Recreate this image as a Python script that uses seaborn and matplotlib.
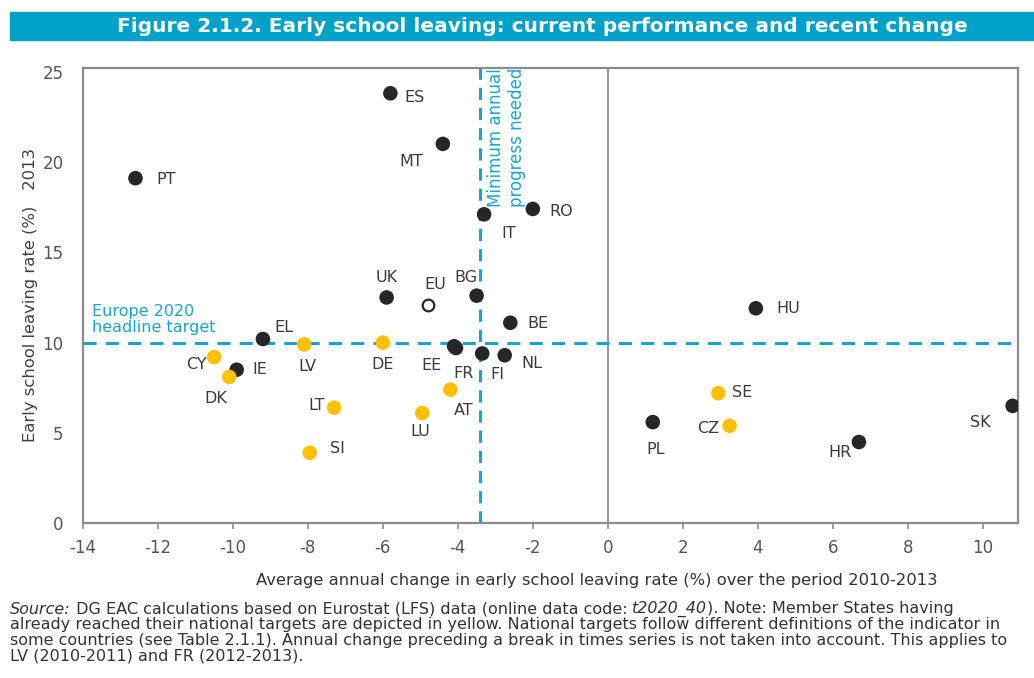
import numpy as np
import pandas as pd
import matplotlib
matplotlib.use("Agg")
import matplotlib.pyplot as plt
import seaborn as sns
from matplotlib.patches import Rectangle

# ---------------- data ----------------
countries = ["ES", "MT", "PT", "IT", "RO", "UK", "EU", "BG", "BE", "EL", "LV", "DE",
             "EE", "FR", "FI", "NL", "CY", "IE", "DK", "AT", "LT", "LU", "SI",
             "HU", "SE", "CZ", "PL", "HR", "SK"]
change = [-5.8, -4.4, -12.6, -3.3, -2.0, -5.9, -4.8, -3.5, -2.6, -9.2, -8.1, -6.0,
          -4.1, -4.05, -3.35, -2.75, -10.5, -9.9, -10.1, -4.2, -7.3, -4.95, -7.95,
          3.95, 2.95, 3.25, 1.2, 6.7, 10.8]
rate = [23.8, 21.0, 19.1, 17.1, 17.4, 12.5, 12.1, 12.6, 11.1, 10.2, 9.9, 10.0,
        9.8, 9.7, 9.4, 9.3, 9.2, 8.5, 8.1, 7.4, 6.4, 6.1, 3.9,
        11.9, 7.2, 5.4, 5.6, 4.5, 6.5]
status = ["not", "not", "not", "not", "not", "not", "eu", "not", "not", "not", "reached", "reached",
          "not", "not", "not", "not", "reached", "not", "reached", "reached", "reached", "reached", "reached",
          "not", "reached", "reached", "not", "not", "not"]

headline_target = 10
min_annual_progress = -3.4

x_ticks = list(range(-14, 11, 2))
y_ticks = [0, 5, 10, 15, 20, 25]

# label offsets in pixels (layout only)
label_offsets = {
    "ES": (24, -4), "MT": (-32, -18), "PT": (31, -1), "IT": (25, -19), "RO": (28, -3),
    "UK": (0, 20), "EU": (7, 20), "BG": (-11, 18), "BE": (28, -1), "EL": (21, 12),
    "LV": (3, -22), "DE": (0, -22), "EE": (-23, -19), "FR": (8, -25), "FI": (15, -21),
    "NL": (27, -8), "CY": (-18, -7), "IE": (23, 0), "DK": (-13, -22), "AT": (13, -21),
    "LT": (-18, 2), "LU": (-2, -18), "SI": (28, 4), "HU": (32, 0), "SE": (24, 1),
    "CZ": (-21, -3), "PL": (3, -27), "HR": (-19, -11), "SK": (-32, -17),
}

df = pd.DataFrame({"country": countries, "change": change, "rate": rate, "status": status})

# ---------------- style ----------------
sns.set_theme(style="white")
plt.rcParams["font.family"] = ["DejaVu Sans"]

W, H = 1034, 678
fig = plt.figure(figsize=(W / 100, H / 100), dpi=100)
ax = fig.add_axes([83 / W, 1 - 523.3 / H, (1017.5 - 83) / W, (523.3 - 68) / H])

CYAN = "#1ba3cf"
DARK = "#262626"
YELLOW = "#ffc000"
GREY = "#8c8c8c"

ax.axvline(0, color=GREY, lw=1.3, zorder=1)
ax.axhline(headline_target, color=CYAN, lw=2.2, dashes=(4.3, 3.0), zorder=2)
ax.axvline(min_annual_progress, color=CYAN, lw=2.2, dashes=(4.0, 2.6), zorder=2)

sns.scatterplot(data=df[df.status != "eu"], x="change", y="rate", hue="status",
                palette={"not": DARK, "reached": YELLOW}, s=110, edgecolor="none",
                legend=False, ax=ax, zorder=4)
sns.scatterplot(data=df[df.status == "eu"], x="change", y="rate", color="white",
                edgecolor=DARK, linewidth=1.6, s=70, legend=False, ax=ax, zorder=4)

for c, xv, yv in zip(countries, change, rate):
    dx, dy = label_offsets[c]
    ax.annotate(c, (xv, yv), xytext=(dx, dy), textcoords="offset pixels",
                ha="center", va="center", fontsize=11.5, color="#3a3a3a", zorder=5)

ax.text(-13.76, 10.4, "Europe 2020\nheadline target", color=CYAN, fontsize=11.5,
        ha="left", va="bottom", linespacing=1.15)
ax.text(-2.99, 17.5, "Minimum annual", color=CYAN, fontsize=12, rotation=90,
        ha="center", va="bottom")
ax.text(-2.41, 17.5, "progress needed", color=CYAN, fontsize=12, rotation=90,
        ha="center", va="bottom")

ax.set_xlim(-14, 10.93)
ax.set_ylim(0, 25.2)
ax.set_xticks(x_ticks)
ax.set_yticks(y_ticks)
ax.set_xticklabels([str(t) for t in x_ticks])
ax.set_yticklabels([str(t) for t in y_ticks])
ax.tick_params(axis="x", direction="out", length=4, width=1.2, color=GREY,
               labelsize=12, labelcolor="#555555", pad=7, bottom=True)
ax.tick_params(axis="y", length=0, labelsize=12, labelcolor="#555555", pad=14)
ax.set_xlabel("")
ax.set_ylabel("")
for s in ax.spines.values():
    s.set_color(GREY)
    s.set_linewidth(1.6)

# axis titles
fig.text(31 / W, 1 - 295 / H, "Early school leaving rate (%)   2013", rotation=90,
         ha="center", va="center", fontsize=11.8, color="#404040")
fig.text(597 / W, 1 - 580 / H,
         "Average annual change in early school leaving rate (%) over the period 2010-2013",
         ha="center", va="center", fontsize=11.8, color="#333333")

# title bar
fig.patches.append(Rectangle((10 / W, 1 - 40 / H), 1 - 10 / W, 28 / H,
                             transform=fig.transFigure, color="#00a1c9", zorder=0))
fig.text(542 / W, 1 - 27 / H,
         "Figure 2.1.2. Early school leaving: current performance and recent change",
         ha="center", va="center", fontsize=14.5, fontweight="bold", color="white")

# source note
fs = 11.5
renderer = fig.canvas.get_renderer()
pieces = [("Source:", "italic"),
          (" DG EAC calculations based on Eurostat (LFS) data (online data code: ", "normal"),
          ("t2020_40", "italic"),
          ("). Note: Member States having", "normal")]
xpos = 10
y1 = 1 - 609 / H
for txt, st in pieces:
    t = fig.text(xpos / W, y1, txt, style=st, fontsize=fs, color="#333333",
                 ha="left", va="center")
    bb = t.get_window_extent(renderer)
    xpos = bb.x1
rest = ["already reached their national targets are depicted in yellow. National targets follow different definitions of the indicator in",
        "some countries (see Table 2.1.1). Annual change preceding a break in times series is not taken into account. This applies to",
        "LV (2010-2011) and FR (2012-2013)."]
for i, line in enumerate(rest):
    fig.text(10 / W, 1 - (625 + 15.7 * i) / H, line, fontsize=fs, color="#333333",
             ha="left", va="center")

fig.savefig("out.png", dpi=100)
